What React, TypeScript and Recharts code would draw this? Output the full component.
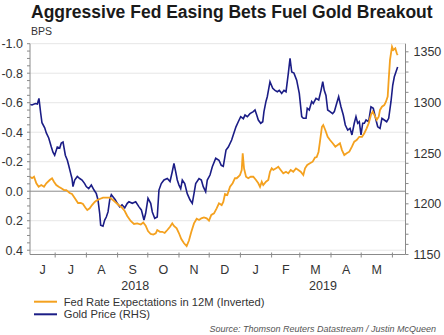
import React from "react";
import { LineChart, Line, XAxis, YAxis, ReferenceLine } from "recharts";

const FONT = '"Liberation Sans", Arial, Helvetica, sans-serif';
const ORANGE = "#F4A11F";
const NAVY = "#1B1D86";
const AXIS = "#8a8a8a";
const TEXT = "#333333";

// x values are days counted from 1 June 2018
const MONTH_STARTS = [30, 61, 92, 122, 153, 183, 214, 245, 273, 304, 334, 365];
const MONTH_MIDS = [17.5, 45.5, 76, 107, 137.5, 168, 198.5, 229, 259, 288.5, 319, 349.5];
const MONTH_LABELS = ["J", "J", "A", "S", "O", "N", "D", "J", "F", "M", "A", "M"];
const YEAR_MIDS = [109.5, 296];
const YEAR_LABELS = ["2018", "2019"];

const LEFT_GRID = [-1.0, -0.8, -0.6, -0.4, -0.2, 0.2, 0.4];

const FED_DAYS = [
  5, 7, 9, 11.3, 13.6, 16.2, 18.9, 21.2, 24.6, 26.9,
  28.8, 31.1, 33.5, 36.1, 38.8, 41.1, 44.4, 46.7, 49.4, 52.7,
  55.4, 57.6, 59.9, 61.9, 64.3, 66.6, 69.3, 71.8, 74.2, 77.5,
  80.8, 84.2, 87.4, 89.7, 92.4, 95.7, 99.1, 101.6, 105, 108.3,
  111.6, 115, 117.5, 119.9, 122.2, 124.9, 127.5, 129.9, 131.4, 134.1,
  136.4, 138.8, 141.4, 144.1, 146.3, 148, 150.7, 153, 155.3, 158,
  160.6, 162.9, 165.2, 167.9, 170.6, 172.9, 175.2, 177.8, 180.5, 182.8,
  185.1, 187.8, 190.4, 192.7, 195.4, 197, 198.7, 201, 203.7, 206.3,
  208.6, 210.3, 211.9, 213.6, 215.3, 216.3, 217.6, 219.6, 221.8, 224.2,
  226.8, 229.5, 231.8, 233.5, 235.2, 236.7, 239.4, 241.7, 243.4, 245.1,
  246.7, 249.4, 251.6, 254, 256.6, 259.3, 261.6, 264, 266.5, 269.2,
  271.5, 273.9, 276.5, 278.2, 280.4, 283.1, 285.8, 288.1, 289.8, 291.6,
  293.1, 295, 296.3, 298.3, 300.7, 303, 305.7, 308.3, 310.6, 312.9,
  314.9, 317.2, 319.6, 322.2, 324.8, 327.1, 329.5, 332.1, 334.8, 337.1,
  339.4, 341.4, 343.7, 345.4, 347, 349.4, 351.4, 352.7, 354.6, 356.9,
  358.6, 360.3, 361.3, 362.6, 364.6, 365.9, 367.9, 369.3, 370.2,
];
const FED_EXP = [
  -0.098, -0.088, -0.098, -0.054, -0.03, -0.042, -0.03, -0.054, -0.076, -0.088,
  -0.064, -0.042, -0.03, -0.02, -0.008, -0.008, 0.012, 0.019, 0.046, 0.08,
  0.08, 0.087, 0.11, 0.127, 0.116, 0.094, 0.073, 0.06, 0.053, 0.043,
  0.043, 0.043, 0.06, 0.073, 0.09, 0.107, 0.134, 0.168, 0.202, 0.222,
  0.218, 0.226, 0.212, 0.233, 0.27, 0.29, 0.294, 0.285, 0.263, 0.275,
  0.275, 0.283, 0.263, 0.241, 0.218, 0.236, 0.252, 0.285, 0.324, 0.353,
  0.372, 0.334, 0.277, 0.218, 0.187, 0.195, 0.184, 0.178, 0.184, 0.199,
  0.161, 0.15, 0.116, 0.082, 0.094, 0.073, 0.019, 0.026, -0.03, -0.054,
  -0.088, -0.088, -0.098, -0.11, -0.144, -0.257, -0.155, -0.098, -0.088, -0.098,
  -0.098, -0.076, -0.054, -0.03, -0.064, -0.042, -0.064, -0.076, -0.132, -0.155,
  -0.144, -0.155, -0.166, -0.144, -0.121, -0.132, -0.121, -0.144, -0.132, -0.155,
  -0.144, -0.132, -0.11, -0.155, -0.178, -0.189, -0.2, -0.228, -0.232, -0.266,
  -0.34, -0.437, -0.449, -0.415, -0.369, -0.347, -0.325, -0.302, -0.313, -0.325,
  -0.279, -0.245, -0.257, -0.268, -0.302, -0.336, -0.347, -0.369, -0.369, -0.393,
  -0.426, -0.46, -0.517, -0.539, -0.517, -0.483, -0.505, -0.551, -0.573, -0.584,
  -0.607, -0.641, -0.754, -0.89, -0.98, -0.957, -0.969, -0.935, -0.923,
];

const GOLD_DAYS = [
  5, 7, 10.3, 12.3, 13.9, 15.6, 16.9, 19.6, 21.2, 23.6,
  26.2, 27.8, 29.5, 32.1, 34.5, 36.1, 37.8, 40.1, 42.1, 43.4,
  45.4, 46.7, 47.7, 49.4, 52, 54.4, 56.7, 59.3, 60.9, 63.3,
  65.9, 68.6, 70.9, 72.5, 74.2, 75.2, 77.5, 79.2, 80.8, 82.5,
  84.2, 85.8, 87.4, 89.7, 91.7, 94.1, 96.4, 99.1, 101.6, 103.3,
  106.6, 110, 113.3, 115.6, 118.2, 119.9, 122.2, 124.9, 126.5, 128.9,
  131.4, 133.1, 135.4, 138.1, 141.4, 144.1, 146.3, 148, 149.7, 151.3,
  153, 154.7, 156.3, 158.7, 161.2, 163.9, 166.2, 167.9, 169.6, 172.9,
  175.2, 177.1, 179.5, 181.1, 183.8, 186.1, 189.5, 192.7, 195, 197,
  199.7, 202, 205.3, 206.9, 209.6, 211.9, 214.3, 216.9, 218.6, 220.9,
  223.5, 226.8, 228.5, 230.2, 231.8, 234.2, 236.2, 237.4, 239.4, 240.7,
  243.4, 246.1, 248.4, 250.7, 252.6, 255, 257.3, 259.3, 261.6, 263.3,
  265, 267.2, 269.9, 272.5, 274.9, 276.5, 279.2, 280.4, 282.4, 284.8,
  286.4, 289.1, 291.8, 294.1, 295.8, 297.3, 299, 300.7, 303, 305.6,
  307.3, 309.6, 311.6, 313.9, 316.2, 318.2, 320.6, 322.9, 324.8, 327.1,
  328.8, 330.5, 332.1, 333.8, 335.5, 337.1, 338.8, 341.4, 343.7, 346,
  348.7, 350.4, 352.7, 354.6, 356.9, 359.3, 361.3, 363.6, 365.3, 366.9,
  368.5, 370.2,
];
const GOLD_PRICE = [
  1298, 1297.5, 1299, 1298.5, 1304, 1289.6, 1280, 1275, 1270, 1265,
  1256, 1251, 1248, 1256, 1255, 1260, 1261, 1248, 1243, 1238,
  1230, 1225, 1217, 1223.5, 1227, 1225, 1223.5, 1220, 1217, 1215,
  1218.5, 1213.6, 1210, 1204, 1190.7, 1179, 1178, 1184, 1187, 1192,
  1204, 1209, 1207, 1204, 1200.5, 1197, 1199, 1196, 1200.5, 1202,
  1200.5, 1202, 1197, 1194, 1184, 1190.7, 1205.5, 1200.5, 1192, 1185.7,
  1187, 1213.6, 1220, 1223.5, 1225, 1222, 1231.7, 1240, 1231.7, 1223.5,
  1218.5, 1215, 1223.5, 1220, 1210, 1204, 1200.5, 1210, 1220, 1225,
  1223.5, 1217, 1212, 1223.5, 1228.4, 1236.6, 1245, 1243, 1238, 1237,
  1253, 1256, 1263, 1268, 1276, 1281, 1286, 1284, 1287.6, 1286,
  1289, 1291, 1292.6, 1287.6, 1282.7, 1279.5, 1281, 1291, 1301, 1305.7,
  1320.5, 1314, 1312, 1310.6, 1312, 1309, 1312, 1310.6, 1328.8, 1343.6,
  1330, 1329, 1322, 1309, 1286, 1284.4, 1284.4, 1294.3, 1292.6, 1301,
  1299, 1304, 1302.4, 1312, 1320.5, 1312, 1307, 1292.6, 1291, 1289,
  1291, 1299, 1305.7, 1295.8, 1287.6, 1277.8, 1272.8, 1274.5, 1268, 1279.5,
  1286, 1279.5, 1281, 1268, 1279.5, 1279.5, 1282.7, 1281, 1295.8, 1294.3,
  1282.7, 1276, 1274.5, 1284.4, 1282.7, 1281, 1284.4, 1301, 1317, 1325.4,
  1330, 1335,
];

const fedData = FED_DAYS.map((day, i) => ({ day, fed: FED_EXP[i] }));
const goldData = GOLD_DAYS.map((day, i) => ({ day, gold: GOLD_PRICE[i] }));

const X_TICKS = [...MONTH_STARTS, ...MONTH_MIDS, ...YEAR_MIDS].sort((a, b) => a - b);

const LEFT_TICKS: number[] = [];
for (let i = 0; i <= 28; i++) LEFT_TICKS.push(Math.round((-1 + i * 0.05) * 100) / 100);
const RIGHT_TICKS: number[] = [];
for (let v = 1150; v <= 1350; v += 10) RIGHT_TICKS.push(v);

function DateTick(props: any) {
  const { x, y, payload } = props;
  const v = payload.value;
  const m = MONTH_MIDS.indexOf(v);
  if (m >= 0) {
    return (
      <text x={x} y={y + 19.5} textAnchor="middle" fontSize={12.5} fill={TEXT} fontFamily={FONT}>
        {MONTH_LABELS[m]}
      </text>
    );
  }
  const yr = YEAR_MIDS.indexOf(v);
  if (yr >= 0) {
    return (
      <text x={x} y={y + 35.5} textAnchor="middle" fontSize={12.5} fill={TEXT} fontFamily={FONT}>
        {YEAR_LABELS[yr]}
      </text>
    );
  }
  return <line x1={x} x2={x} y1={y - 2} y2={y + 3} stroke={AXIS} strokeWidth={1} />;
}

const leftFmt = (v: number) => (Math.abs(v * 5 - Math.round(v * 5)) < 1e-6 ? v.toFixed(1) : "");
const rightFmt = (v: number) => (v % 50 === 0 ? String(v) : "");

export default function App() {
  return (
    <div
      style={{
        position: "absolute",
        left: 0,
        top: 0,
        width: 444,
        height: 335,
        background: "#ffffff",
        overflow: "hidden",
      }}
    >
      <LineChart width={444} height={300} margin={{ top: 43.7, right: 0, bottom: 5.5, left: 0 }}>
        {LEFT_GRID.map((v) => (
          <ReferenceLine key={v} yAxisId="left" y={v} stroke="#e6e6e6" strokeWidth={1} />
        ))}
        <ReferenceLine yAxisId="left" y={0} stroke="#8c8c8c" strokeWidth={1} />
        <XAxis
          type="number"
          dataKey="day"
          domain={[5, 378]}
          allowDataOverflow
          ticks={X_TICKS}
          interval={0}
          tick={(p: any) => <DateTick {...p} />}
          tickLine={false}
          tickSize={0}
          tickMargin={0}
          height={40}
          axisLine={{ stroke: AXIS }}
        />
        <YAxis
          yAxisId="left"
          orientation="left"
          width={30}
          domain={[-1.0, 0.429]}
          reversed
          allowDataOverflow
          ticks={LEFT_TICKS}
          interval={0}
          tickFormatter={leftFmt}
          tickSize={3}
          tickMargin={4}
          tick={{ fontSize: 12.5, fill: TEXT, fontFamily: FONT }}
          axisLine={{ stroke: AXIS }}
          tickLine={{ stroke: AXIS }}
        />
        <YAxis
          yAxisId="right"
          orientation="right"
          width={38.5}
          domain={[1150, 1358]}
          allowDataOverflow
          ticks={RIGHT_TICKS}
          interval={0}
          tickFormatter={rightFmt}
          tickSize={3}
          tickMargin={5}
          tick={{ fontSize: 12.5, fill: TEXT, fontFamily: FONT }}
          axisLine={{ stroke: AXIS }}
          tickLine={{ stroke: AXIS }}
        />
        <Line
          yAxisId="right"
          data={goldData}
          dataKey="gold"
          type="linear"
          stroke={NAVY}
          strokeWidth={1.6}
          dot={false}
          activeDot={false}
          isAnimationActive={false}
        />
        <Line
          yAxisId="left"
          data={fedData}
          dataKey="fed"
          type="linear"
          stroke={ORANGE}
          strokeWidth={1.8}
          dot={false}
          activeDot={false}
          isAnimationActive={false}
        />
      </LineChart>

      <svg
        width={444}
        height={335}
        style={{ position: "absolute", left: 0, top: 0, pointerEvents: "none" }}
        fontFamily={FONT}
      >
        <text x={31} y={18.3} fontSize={17.5} fontWeight="bold" fill="#1a1a1a">
          Aggressive Fed Easing Bets Fuel Gold Breakout
        </text>
        <text x={31} y={35} fontSize={10.5} fill={TEXT}>
          BPS
        </text>
        <line x1={34} x2={57} y1={301.7} y2={301.7} stroke={ORANGE} strokeWidth={2} />
        <text x={63.7} y={305.8} fontSize={11.2} fill={TEXT}>
          Fed Rate Expectations in 12M (Inverted)
        </text>
        <line x1={34} x2={57} y1={314.3} y2={314.3} stroke={NAVY} strokeWidth={2} />
        <text x={63.7} y={318.4} fontSize={11.2} fill={TEXT}>
          Gold Price (RHS)
        </text>
        <text x={436} y={332.3} fontSize={9} fontStyle="italic" fill="#555555" textAnchor="end">
          Source: Thomson Reuters Datastream / Justin McQueen
        </text>
      </svg>
    </div>
  );
}
